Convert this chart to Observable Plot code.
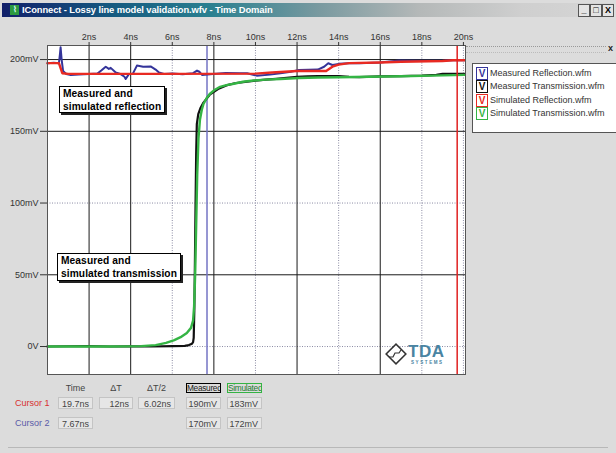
<!DOCTYPE html>
<html>
<head>
<meta charset="utf-8">
<script src="https://cdn.jsdelivr.net/npm/d3@7"></script>
<script src="https://cdn.jsdelivr.net/npm/@observablehq/plot@0.6"></script>
<style>
  html, body { margin: 0; padding: 0; background: #dcdcdc; }
  #win { position: relative; width: 616px; height: 453px; overflow: hidden; background: #dcdcdc;
         font-family: "Liberation Sans", Arial, sans-serif; }
  #chart { position: absolute; left: 0; top: 0; }
  .abs { position: absolute; }
  #titlebar { left: 2px; top: 3px; width: 612px; height: 14px;
    background: linear-gradient(90deg, #12206a 0%, #155a80 18%, #2a8090 34%, #7a9aa0 52%, #b4b8b8 68%, #cfcfcf 85%, #d6d6d6 100%);
    color: #fff; font-weight: bold; font-size: 9.4px; line-height: 14px; white-space: nowrap; }
  #titlebar .ico { position: absolute; left: 8px; top: 2px; width: 9px; height: 10px; background: #2c9a40; color: #dff; font-size: 8px; line-height: 10px; text-align: center; }
  #titlebar .txt { position: absolute; left: 20px; top: 0; letter-spacing: -0.1px; }
  .btn { position: absolute; top: 1px; width: 10px; height: 11px; border: 1px solid #555; background: #e4e4e4; color: #000; font-size: 9px; line-height: 10px; text-align: center; font-weight: bold; }
  .note { background: #fff; border: 1px solid #000; box-shadow: 2px 2px 0 #222; font-weight: bold; font-size: 10.2px; line-height: 13px; color: #000; padding: 0 3px; white-space: nowrap; letter-spacing: 0.1px; }
  #legend { left: 472px; top: 63px; width: 150px; height: 68px; background: #fff; border: 1px solid #555; }
  .lrow { position: absolute; left: 3px; height: 13px; font-size: 9px; line-height: 13px; color: #333; white-space: nowrap; }
  .lrow .v { display: inline-block; width: 10px; height: 11px; border: 1px solid; font-size: 10px; line-height: 11px; text-align: center; font-weight: bold; margin-right: 2px; vertical-align: middle; background: #fff; }
  .th { font-size: 9px; color: #444; text-align: center; height: 10px; line-height: 10px; overflow: hidden; white-space: nowrap; }
  .cell { font-size: 9px; color: #444; text-align: right; height: 12px; line-height: 12px; padding-right: 3px; box-sizing: border-box;
          border: 1px solid #c4c4c4; background: #e6e6e6; }
  .rowlab { font-size: 9px; line-height: 12px; }
</style>
</head>
<body>
<div id="win">
  <div id="chart"></div>
</div>
<script>
// ---- data ----
const timeTicks = [2, 4, 6, 8, 10, 12, 14, 16, 18, 20];           // ns
const voltTicks = [0, 50, 100, 150, 200];                          // mV
const solidTimeGrid = [2, 4, 8, 12, 16];
const solidVoltGrid = [50, 150, 200];

// [time ns, mV]
const measuredReflection = [
  [0,197.5],[0.3,197.8],[0.55,197.5],[0.6,204],[0.63,208.5],[0.68,200],[0.75,192],[0.9,190],[1.12,189.3],
  [1.5,189.6],[2.0,190],[2.4,190.2],[2.6,192.5],[2.8,195],[2.95,193.5],[3.04,194.2],[3.28,191],[3.5,190],
  [3.7,188],[3.76,186.5],[3.92,190],[4.1,190],[4.3,195.8],[4.6,195],[4.96,195.2],[5.2,193],[5.36,191],
  [5.6,190],[6,190.2],[6.5,189.8],[7.0,190.5],[7.19,192.3],[7.3,191.5],[7.43,189.3],[7.96,190],[8.57,190.6],
  [9.25,190.5],[9.6,190.4],[10.06,188.8],[10.7,189.5],[11.2,190.5],[11.7,191.5],[12.1,192.8],[13.0,193],
  [13.3,195],[13.5,197.4],[13.7,196.2],[14,197],[14.5,197.4],[15,197.5],[16,198],[16.9,199.3],[18,199.2],
  [19.1,199.3],[19.5,199.5],[20.05,199.5]
];
const simulatedReflection = [
  [0,197.5],[0.55,197.5],[0.71,190.5],[1,190],[5,190],[10,190.2],[10.8,191],[12,192],[13.4,192],
  [13.7,195],[14.0,196.5],[14.5,197.5],[16,198],[17,198.5],[19,199],[19.5,199.5],[20.05,199.5]
];
const measuredTransmission = [
  [0,0],[1,0.2],[2,0.3],[3,0],[4,0.2],[5,0],[6,0.3],[6.6,0.5],[6.8,1],[6.95,2],[7.0,3],[7.03,6],
  [7.06,25],[7.09,60],[7.12,100],[7.15,135],[7.18,155],[7.25,162],[7.35,166],[7.5,170],[7.8,175.5],
  [8.2,179.5],[8.6,182],[9,183.5],[9.5,184.5],[10,185.3],[10.5,186],[11,186.6],[11.5,187.3],[12,188],
  [12.5,188.3],[13,188.5],[14,188.5],[14.5,188],[15,187.8],[16,188.3],[17,188.5],[18,188.8],[18.7,189.3],
  [19,190],[20.05,190]
];
const simulatedTransmission = [
  [0,0],[3,0],[4.5,0.3],[5.2,1],[5.7,2.5],[6.1,4.5],[6.4,6.5],[6.7,9.5],[6.9,13],[7.0,18],[7.05,28],
  [7.1,50],[7.15,85],[7.2,120],[7.26,145],[7.33,158],[7.42,165],[7.5,169],[7.65,173],[7.8,176],
  [8.05,179],[8.3,181],[8.6,182.2],[8.9,183],[9.4,184.5],[9.9,185.4],[10.5,186],[11.2,186.5],[12.1,187.2],
  [13,187.5],[14,187.7],[15.5,188],[17,188.4],[18.5,188.8],[20.05,189.3]
];
const cursorTimes = [19.7, 7.67];
const cursorNames = ["Cursor 1", "Cursor 2"];
const headers = ["Time", "\u0394T", "\u0394T/2", "Measured", "Simulated"];
const cursor1Values = ["19.7ns", "12ns", "6.02ns", "190mV", "183mV"];
const cursor2Values = ["7.67ns", "", "", "170mV", "172mV"];
const seriesNames = ["Measured Reflection.wfm", "Measured Transmission.wfm", "Simulated Reflection.wfm", "Simulated Transmission.wfm"];
const seriesColors = ["#34349a", "#111111", "#e82a22", "#34b444"];
const title = "IConnect - Lossy line model validation.wfv - Time Domain";

// ---- chart ----
const X = d => d[0], Y = d => d[1];
const chart = Plot.plot({
  width: 616, height: 453,
  marginTop: 45, marginBottom: 79, marginLeft: 47, marginRight: 151,
  style: { background: "transparent", fontFamily: "Liberation Sans, Arial, sans-serif", fontSize: "9px", color: "#333", overflow: "visible" },
  x: { domain: [0, 20.1], axis: null },
  y: { domain: [-19.5, 209.8], axis: null },
  marks: [
    Plot.frame({ fill: "white" }),
    Plot.ruleX(timeTicks.filter(t => !solidTimeGrid.includes(t)), { stroke: "#8c8ca4", strokeDasharray: "1,1.5" }),
    Plot.ruleY(voltTicks.filter(v => !solidVoltGrid.includes(v)), { stroke: "#8c8ca4", strokeDasharray: "1,1.5" }),
    Plot.ruleX(solidTimeGrid, { stroke: "#1a1a1a", strokeWidth: 1 }),
    Plot.ruleY(solidVoltGrid, { stroke: "#1a1a1a", strokeWidth: 1 }),
    Plot.ruleX([cursorTimes[1]], { stroke: "#7474c4", strokeWidth: 1.5, y1: -19.5, y2: 209.8 }),
    Plot.line(measuredTransmission, { x: X, y: Y, stroke: seriesColors[1], strokeWidth: 2.2 }),
    Plot.line(simulatedTransmission, { x: X, y: Y, stroke: seriesColors[3], strokeWidth: 2.4 }),
    Plot.line(measuredReflection, { x: X, y: Y, stroke: seriesColors[0], strokeWidth: 2 }),
    Plot.line(simulatedReflection, { x: X, y: Y, stroke: seriesColors[2], strokeWidth: 2.4 }),
    Plot.ruleX([cursorTimes[0]], { stroke: "#e02020", strokeWidth: 1.5, y1: -19.5, y2: 209.8 }),
    Plot.frame({ stroke: "#555" }),
    Plot.axisX(timeTicks, { anchor: "top", tickFormat: d => d + "ns", tickSize: 4, tickPadding: 2, stroke: "#333" }),
    Plot.axisY(voltTicks, { anchor: "left", tickFormat: d => d === 0 ? "0V" : d + "mV", tickSize: 7, tickPadding: 2, stroke: "#333" })
  ]
});
document.getElementById("chart").appendChild(chart);

// ---- window decorations (HTML) ----
const win = document.getElementById("win");
function add(html, cls, css) {
  const el = document.createElement("div");
  el.className = "abs " + (cls || "");
  el.innerHTML = html;
  Object.assign(el.style, css || {});
  win.appendChild(el);
  return el;
}
const tb = add(`<div class="ico">&#x2307;</div><div class="txt">${title}</div>
  <div class="btn" style="left:576px">_</div><div class="btn" style="left:588px">&#x25A1;</div><div class="btn" style="left:600px">X</div>`, "", {});
tb.id = "titlebar";

add("Measured and<br>simulated reflection", "note", { left: "59px", top: "86px", height: "25px" });
add("Measured and<br>simulated transmission", "note", { left: "57px", top: "253px", height: "26px" });

// TDA logo
add(`<svg width="80" height="30" style="overflow:visible">
  <g transform="translate(11,12) rotate(45)"><rect x="-7" y="-7" width="14" height="14" fill="#fff" stroke="#333" stroke-width="1.5"/></g>
  <path d="M4,15 L8,15 L10,11 L14,11 L16,8" fill="none" stroke="#333" stroke-width="1.2"/>
  <text x="23" y="15" font-family="Liberation Sans, Arial" font-weight="bold" font-size="17" fill="#4a84a2" letter-spacing="0.5">TDA</text>
  <text x="26" y="22" font-family="Liberation Sans, Arial" font-weight="bold" font-size="4.5" fill="#4a84a2" letter-spacing="1.6">SYSTEMS</text>
</svg>`, "", { left: "385px", top: "342px" });

// legend panel
add("", "", { left: "466px", top: "46px", width: "140px", height: "5px", borderTop: "1px dotted #999", borderBottom: "1px dotted #bbb" });
add("x", "", { left: "608px", top: "43px", fontSize: "9px", color: "#222", fontWeight: "bold" });
const leg = add("", "", {}); leg.id = "legend";
seriesNames.forEach((n, i) => {
  const r = document.createElement("div");
  r.className = "lrow";
  r.style.top = (3 + i * 13.3) + "px";
  r.innerHTML = `<span class="v" style="border-color:${seriesColors[i]};color:${seriesColors[i]}">V</span>${n}`;
  leg.appendChild(r);
});

// cursor table
const colLeft = [58, 99, 138, 186, 227];
const colW = [35, 34, 37, 35, 35];
headers.forEach((h, i) => {
  const css = { left: colLeft[i] + "px", top: "383px", width: colW[i] + "px" };
  if (i === 3) Object.assign(css, { border: "1px solid #000", color: "#222", boxSizing: "border-box", height: "10px", lineHeight: "8px", fontSize: "8.3px", letterSpacing: "-0.3px" });
  if (i === 4) Object.assign(css, { border: "1px solid #34b444", color: "#227a30", boxSizing: "border-box", height: "10px", lineHeight: "8px", fontSize: "8.3px", letterSpacing: "-0.3px" });
  add(h, "th", css);
});
add(cursorNames[0], "rowlab", { left: "15px", top: "397px", color: "#d83030" });
add(cursorNames[1], "rowlab", { left: "15px", top: "417px", color: "#5a5aa8" });
cursor1Values.forEach((v, i) => add(v, "cell", { left: colLeft[i] + "px", top: "397px", width: colW[i] + "px" }));
cursor2Values.forEach((v, i) => { if (v) add(v, "cell", { left: colLeft[i] + "px", top: "417px", width: colW[i] + "px" }); });
add("", "", { left: "8px", top: "447px", width: "600px", height: "1px", background: "#b8b8b8" });
</script>
</body>
</html>
